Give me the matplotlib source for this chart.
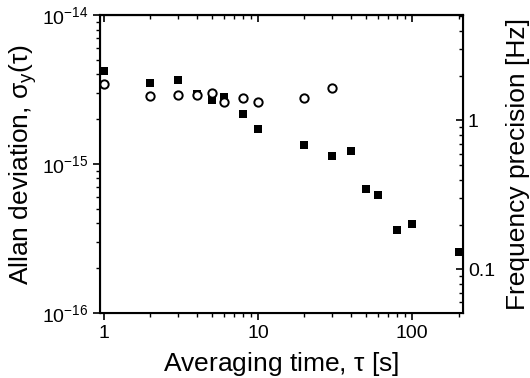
import matplotlib
matplotlib.use('Agg')
import matplotlib.pyplot as plt
from matplotlib.ticker import LogLocator, NullFormatter

plt.rcParams['font.family'] = ['Liberation Sans', 'DejaVu Sans']
plt.rcParams['mathtext.fontset'] = 'custom'
plt.rcParams['mathtext.rm'] = 'Liberation Sans'
plt.rcParams['mathtext.it'] = 'Liberation Sans:italic'
plt.rcParams['mathtext.default'] = 'regular'

# filled squares
tau_sq = [1, 2, 3, 4, 5, 6, 8, 10, 20, 30, 40, 50, 60, 80, 100, 200]
sig_sq = [4.2e-15, 3.5e-15, 3.65e-15, 2.95e-15, 2.7e-15, 2.8e-15, 2.18e-15, 1.73e-15,
          1.35e-15, 1.14e-15, 1.22e-15, 6.8e-16, 6.2e-16, 3.6e-16, 3.95e-16, 2.57e-16]
# open circles
tau_ci = [1, 2, 3, 4, 5, 6, 8, 10, 20, 30]
sig_ci = [3.44e-15, 2.87e-15, 2.92e-15, 2.89e-15, 2.99e-15, 2.6e-15, 2.78e-15, 2.6e-15,
          2.78e-15, 3.25e-15]

nu0 = 5.1e14  # optical frequency [Hz] linking both axes
xlim = (0.942, 214)
ylim = (1e-16, 1e-14)

fig = plt.figure(figsize=(5.3, 3.78), dpi=100)
ax = fig.add_axes([0.1887, 0.172, 0.685, 0.788])

ax.plot(tau_sq, sig_sq, 's', color='black', markersize=5.2, markeredgewidth=0, clip_on=False)
ax.plot(tau_ci, sig_ci, 'o', markerfacecolor='white', markeredgecolor='black',
        markersize=6, markeredgewidth=1.4)

ax.set_xscale('log')
ax.set_yscale('log')
ax.set_xlim(*xlim)
ax.set_ylim(*ylim)

ax.set_xticks([1, 10, 100])
ax.set_xticklabels(['1', '10', '100'])
ax.xaxis.set_minor_locator(LogLocator(base=10, subs=range(2, 10)))
ax.xaxis.set_minor_formatter(NullFormatter())
ax.set_yticks([1e-16, 1e-15, 1e-14])
ax.set_yticklabels(['10$^{-16}$', '10$^{-15}$', '10$^{-14}$'])
ax.yaxis.set_minor_locator(LogLocator(base=10, subs=range(2, 10)))
ax.yaxis.set_minor_formatter(NullFormatter())

ax.tick_params(axis='both', which='major', labelsize=14, length=5, width=1.2, direction='out')
ax.tick_params(axis='both', which='minor', length=3, width=1, direction='out')
ax.tick_params(axis='y', right=False)
for s in ax.spines.values():
    s.set_linewidth(1.5)

# top axis: inward ticks, no labels
top = ax.secondary_xaxis('top')
top.set_xticks([1, 10, 100])
top.xaxis.set_minor_locator(LogLocator(base=10, subs=range(2, 10)))
top.xaxis.set_minor_formatter(NullFormatter())
top.tick_params(which='major', direction='in', length=5, width=1.2, labeltop=False)
top.tick_params(which='minor', direction='in', length=3, width=1)
top.spines['top'].set_linewidth(1.5)

ax.set_xlabel(r'Averaging time, $\tau$ [s]', fontsize=19, labelpad=6)
ax.set_ylabel(r'Allan deviation, $\sigma_y(\tau)$', fontsize=19, labelpad=2)

# right axis: frequency precision
ax2 = ax.twinx()
ax2.set_yscale('log')
ax2.set_ylim(ylim[0] * nu0, ylim[1] * nu0)
ax2.set_yticks([0.1, 1])
ax2.set_yticklabels(['0.1', '1'])
ax2.yaxis.set_minor_locator(LogLocator(base=10, subs=range(2, 10)))
ax2.yaxis.set_minor_formatter(NullFormatter())
ax2.tick_params(axis='y', which='major', labelsize=14, length=5, width=1.2, direction='in')
ax2.tick_params(axis='y', which='minor', length=3, width=1, direction='in')
ax2.set_ylabel('Frequency precision [Hz]', fontsize=19, labelpad=8)

plt.savefig('out.png', dpi=100)
